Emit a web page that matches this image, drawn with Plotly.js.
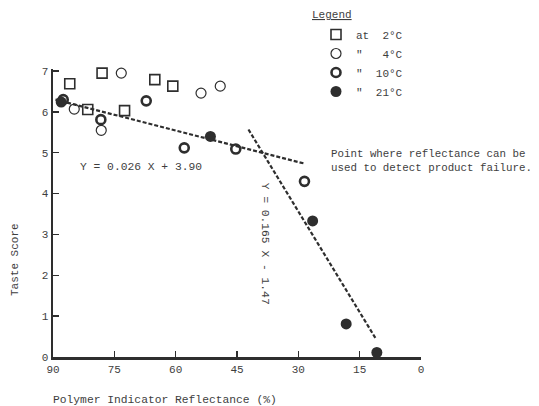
<!DOCTYPE html>
<html>
<head>
<meta charset="utf-8">
<script src="https://cdn.plot.ly/plotly-3.0.1.min.js"></script>
<style>html,body{margin:0;padding:0;background:#fff;}#chart{width:539px;height:406px;}</style>
</head>
<body>
<div id="chart"></div>
<script>
// Data
const x2C = [85.9, 78.0, 65.1, 60.7, 81.5, 72.5];
const y2C = [6.69, 6.95, 6.79, 6.63, 6.06, 6.03];
const x4C = [73.3, 53.8, 49.1, 84.8, 78.2];
const y4C = [6.95, 6.46, 6.63, 6.07, 5.55];
const x10C = [87.5, 67.2, 78.3, 57.9, 45.3, 28.5];
const y10C = [6.30, 6.27, 5.81, 5.12, 5.09, 4.30];
const x21C = [88.0, 51.5, 26.5, 18.3, 10.8];
const y21C = [6.24, 5.40, 3.33, 0.81, 0.11];

const fit1X = [89.4, 28.7];
const fit1Y = [6.30, 4.74];
const fit2X = [42.2, 11.0];
const fit2Y = [5.57, 0.44];

const seriesNames = ['at\u00a0\u00a02\u00b0C', '"\u00a0\u00a0\u00a04\u00b0C', '"\u00a0\u00a010\u00b0C', '"\u00a0\u00a021\u00b0C'];
const xTicks = [90, 75, 60, 45, 30, 15, 0];
const yTicks = [0, 1, 2, 3, 4, 5, 6, 7];

const ink = '#2e2e2e';
const txt = '#3e3e3e';
const font = 'Liberation Mono, Courier New, monospace';

const traces = [
  {x: fit1X, y: fit1Y, mode: 'lines', line: {color: ink, width: 2.2, dash: '4px,2px'}, showlegend: false, hoverinfo: 'skip'},
  {x: fit2X, y: fit2Y, mode: 'lines', line: {color: ink, width: 2.2, dash: '4px,2px'}, showlegend: false, hoverinfo: 'skip'},
  {x: x2C, y: y2C, mode: 'markers', name: seriesNames[0], cliponaxis: false,
   marker: {symbol: 'square-open', size: 10, color: ink, line: {width: 1.6, color: ink}}},
  {x: x4C, y: y4C, mode: 'markers', name: seriesNames[1], cliponaxis: false,
   marker: {symbol: 'circle-open', size: 10, color: ink, line: {width: 1.2, color: ink}}},
  {x: x10C, y: y10C, mode: 'markers', name: seriesNames[2], cliponaxis: false,
   marker: {symbol: 'circle-open', size: 9, color: ink, line: {width: 2.6, color: ink}}},
  {x: x21C, y: y21C, mode: 'markers', name: seriesNames[3], cliponaxis: false,
   marker: {symbol: 'circle', size: 11, color: ink, line: {width: 0}}}
];

const L = 53, R = 118, T = 69, B = 49, W = 539, H = 406;
const plotW = W - L - R, plotH = H - T - B;
const px = v => (v - L) / plotW;          // pixel x -> paper x
const py = v => (H - B - v) / plotH;      // pixel y -> paper y

const layout = {
  width: W, height: H,
  margin: {l: L, r: R, t: T, b: B, autoexpand: false},
  paper_bgcolor: '#ffffff', plot_bgcolor: '#ffffff',
  font: {family: font, size: 11, color: txt},
  showlegend: true,
  legend: {
    x: px(316), y: py(20), xanchor: 'left', yanchor: 'top',
    bgcolor: 'rgba(0,0,0,0)', borderwidth: 0,
    font: {family: font, size: 11, color: txt},
    itemwidth: 30, tracegroupgap: 0
  },
  xaxis: {
    range: [90, 0], tickvals: xTicks, ticktext: xTicks.map(String),
    showgrid: false, zeroline: false, showline: true, linecolor: ink, linewidth: 2.5,
    ticks: 'inside', ticklen: 6, tickwidth: 1.5, tickcolor: ink,
    tickfont: {family: font, size: 11, color: txt}
  },
  yaxis: {
    range: [0, 7.05], tickvals: yTicks, ticktext: yTicks.map(String),
    showgrid: false, zeroline: false, showline: true, linecolor: ink, linewidth: 2.5,
    ticks: 'inside', ticklen: 6, tickwidth: 1.5, tickcolor: ink,
    tickfont: {family: font, size: 11, color: txt}
  },
  annotations: [
    {x: px(310), y: py(15), xref: 'paper', yref: 'paper', xanchor: 'left', yanchor: 'middle', text: '<u>Legend</u>', showarrow: false,
     font: {family: font, size: 11, color: txt}},
    {x: 68.6, y: 4.65, xref: 'x', yref: 'y', text: 'Y = 0.026 X + 3.90', showarrow: false,
     font: {family: font, size: 11.3, color: txt}},
    {x: 38.1, y: 2.77, xref: 'x', yref: 'y', text: 'Y = 0.165 X - 1.47', showarrow: false, textangle: 90,
     font: {family: font, size: 11.3, color: txt}},
    {x: px(329), y: py(160.5), xref: 'paper', yref: 'paper', xanchor: 'left', yanchor: 'middle', align: 'left', showarrow: false,
     text: 'Point where reflectance can be<br>used to detect product failure.',
     font: {family: font, size: 10.8, color: txt}},
    {x: px(15), y: py(260), xref: 'paper', yref: 'paper', xanchor: 'center', yanchor: 'middle', text: 'Taste Score', showarrow: false, textangle: -90,
     font: {family: font, size: 11, color: txt}},
    {x: px(51), y: py(400), xref: 'paper', yref: 'paper', text: 'Polymer Indicator Reflectance (%)', showarrow: false, xanchor: 'left', yanchor: 'middle',
     font: {family: font, size: 11.3, color: txt}}
  ]
};

Plotly.newPlot('chart', traces, layout, {displayModeBar: false, staticPlot: true});
</script>
</body>
</html>
